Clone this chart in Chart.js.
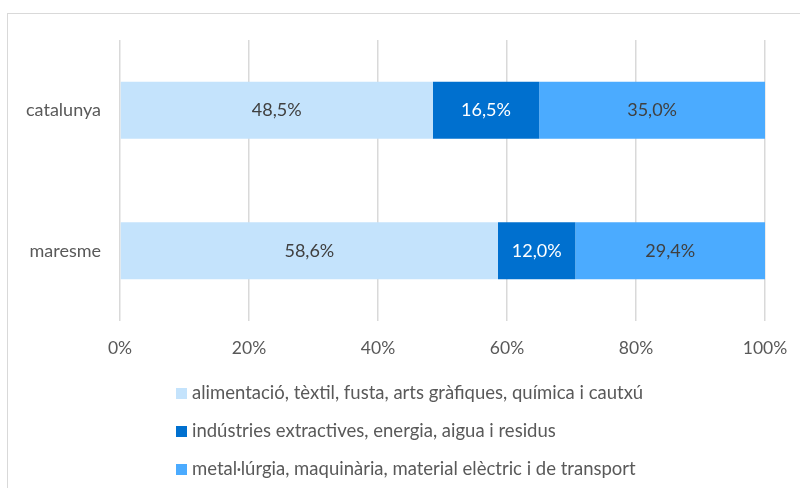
<!DOCTYPE html>
<html>
<head>
<meta charset="utf-8">
<script src="https://cdn.jsdelivr.net/npm/chart.js@4"></script>
<style>
  html, body { margin: 0; padding: 0; background: #fff; overflow: hidden; }
  #wrap { position: relative; width: 800px; height: 488px; }
  #frame { position: absolute; left: 7px; top: 13px; width: 820px; height: 500px; border: 1.5px solid #d9d9d9; box-sizing: border-box; }
  canvas { position: absolute; left: 0; top: 0; }
  #legend { position: absolute; left: 176px; top: 380px; font-family: Lato, sans-serif; font-size: 18.5px; color: #595959; }
  #legend div { height: 38px; line-height: 24px; white-space: nowrap; }
  #legend span.box { display: inline-block; width: 11px; height: 11px; margin-right: 5px; vertical-align: 0px; }
</style>
</head>
<body>
<div id="wrap">
  <div id="frame"></div>
  <canvas id="chart" width="800" height="488"></canvas>
  <div id="legend"></div>
</div>
<script>
// Chart data
const categories = ['catalunya', 'maresme'];
const seriesNames = [
    'alimentació, tèxtil, fusta, arts gràfiques, química i cautxú',
    'indústries extractives, energia, aigua i residus',
    'metal·lúrgia, maquinària, material elèctric i de transport'
];
const alimentacio = [48.5, 58.6];
const extractives = [16.5, 12.0];
const metallurgia = [35.0, 29.4];
const xTicks = [0, 20, 40, 60, 80, 100];

const colors = ['#c4e3fc', '#0070cf', '#4babff'];
const labelColors = ['#404040', '#ffffff', '#404040'];
const font = 'Lato, sans-serif';

// Draw value labels in the middle of each bar
const barLabels = {
    id: 'barLabels',
    afterDatasetsDraw(chart) {
        const ctx = chart.ctx;
        ctx.save();
        ctx.font = '18px ' + font;
        ctx.textAlign = 'center';
        ctx.textBaseline = 'middle';
        chart.data.datasets.forEach((ds, i) => {
            chart.getDatasetMeta(i).data.forEach((bar, j) => {
                const p = bar.getProps(['x', 'y', 'base'], true);
                ctx.fillStyle = labelColors[i];
                ctx.fillText(ds.data[j].toFixed(1).replace('.', ',') + '%', (p.x + p.base) / 2, p.y);
            });
        });
        ctx.restore();
    }
};

const datasets = [alimentacio, extractives, metallurgia].map((values, i) => ({
    label: seriesNames[i],
    data: values,
    backgroundColor: colors[i],
    borderWidth: 0,
    categoryPercentage: 1,
    barPercentage: 0.405
}));

const chart = new Chart(document.getElementById('chart'), {
    type: 'bar',
    data: { labels: categories, datasets: datasets },
    options: {
        indexAxis: 'y',
        responsive: false,
        animation: false,
        layout: { padding: { left: 0, right: 35, top: 40, bottom: 127 } },
        plugins: {
            legend: { display: false },
            tooltip: { enabled: false }
        },
        scales: {
            x: {
                stacked: true,
                min: 0,
                max: 100,
                afterBuildTicks: (scale) => { scale.ticks = xTicks.map(v => ({ value: v })); },
                afterFit: (scale) => {
                    scale.height = 40;
                    scale.paddingLeft = 0;
                    scale.paddingRight = 0;
                },
                grid: { color: '#d9d9d9', lineWidth: 1.5, drawTicks: false },
                border: { display: false },
                ticks: {
                    padding: 17,
                    color: '#595959',
                    font: { family: font, size: 17.5 },
                    callback: (v) => v + '%'
                }
            },
            y: {
                stacked: true,
                afterFit: (scale) => { scale.width = 120; },
                grid: { display: false, drawTicks: false },
                border: { display: false },
                ticks: {
                    padding: 19,
                    color: '#595959',
                    font: { family: font, size: 18 }
                }
            }
        }
    },
    plugins: [barLabels]
});

// HTML legend, one item per row
const legend = document.getElementById('legend');
seriesNames.forEach((name, i) => {
    const row = document.createElement('div');
    row.innerHTML = `<span class="box" style="background:${colors[i]}"></span>${name}`;
    legend.appendChild(row);
});
</script>
</body>
</html>
